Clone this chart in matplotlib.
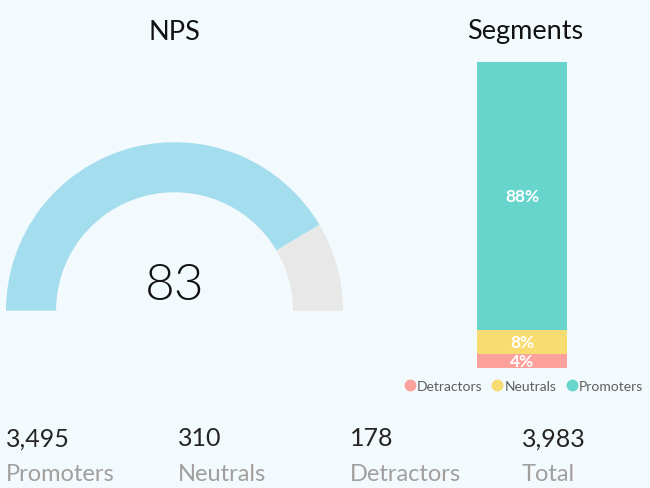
import matplotlib
matplotlib.use("Agg")
import matplotlib.pyplot as plt
from matplotlib.lines import Line2D

# ---- data ----
nps_value = 83
gauge_max = 100
segment_names = ["Detractors", "Neutrals", "Promoters"]
segment_counts = [178, 310, 3495]
card_values = ["3,495", "310", "178", "3,983"]
card_labels = ["Promoters", "Neutrals", "Detractors", "Total"]

# ---- style ----
BG = "#f2fafd"
BLUE = "#a3ddee"
GRAY = "#e8e8e8"
SEG_COLORS = ["#fca19c", "#f8dc72", "#67d5cc"]
W, H = 650, 489

fig = plt.figure(figsize=(W / 100, H / 100), dpi=100, facecolor=BG)
plt.rcParams['font.family'] = ['Lato', 'DejaVu Sans']

def fpos(x0, y0, x1, y1):
    # pixel box (top-left origin) -> figure fraction rect
    return [x0 / W, 1 - y1 / H, (x1 - x0) / W, (y1 - y0) / H]

# ---- gauge ----
axg = fig.add_axes(fpos(6, 143.2, 343, 311.7))
axg.set_facecolor("none")
axg.pie([nps_value, gauge_max - nps_value, gauge_max],
        colors=[BLUE, GRAY, "none"], startangle=180, counterclock=False,
        radius=1, wedgeprops=dict(width=0.297, linewidth=0))
axg.set_xlim(-1, 1)
axg.set_ylim(0, 1)
axg.set_aspect("auto")
axg.axis("off")
axg.text(0, 0.07, f"{nps_value}", ha="center", va="baseline",
         fontsize=37, family=["Lato", "DejaVu Sans"], fontweight=300, color="#111111")

fig.text(174.5 / W, 1 - 39.5 / H, "NPS", ha="center", va="baseline", fontsize=19.5, color="#111111")
fig.text(525 / W, 1 - 39.5 / H, "Segments", ha="center", va="baseline", fontsize=19.5, color="#111111")

# ---- stacked bar ----
axb = fig.add_axes(fpos(477, 62.7, 567, 368.7))
axb.set_facecolor("none")
total = sum(segment_counts)
pcts = [c / total * 100 for c in segment_counts]
bottom = 0
for name, p, col in zip(segment_names, pcts, SEG_COLORS):
    axb.bar(0, p, bottom=bottom, width=1, color=col, linewidth=0)
    axb.text(0, bottom + p / 2, f"{p:.0f}%", ha="center", va="center", color="white",
             fontsize=12.5, fontweight="bold", family=["Lato", "DejaVu Sans"])
    bottom += p
axb.set_xlim(-0.5, 0.5)
axb.set_ylim(0, 100)
axb.axis("off")

handles = [Line2D([], [], marker="o", linestyle="none", markersize=8.5,
                  markerfacecolor=c, markeredgewidth=0) for c in SEG_COLORS]
fig.legend(handles, segment_names, loc="center", bbox_to_anchor=(523 / W, 1 - 387 / H),
           ncol=3, frameon=False, fontsize=10, labelcolor="#605e5c",
           handletextpad=0.05, columnspacing=0.55, handlelength=1.0, borderpad=0)

# ---- cards ----
xs = [6, 178, 350, 522]
for x, v, lab in zip(xs, card_values, card_labels):
    fig.text(x / W, 1 - 446.5 / H, v, ha="left", va="baseline", fontsize=18, color="#252423")
    fig.text(x / W, 1 - 481 / H, lab, ha="left", va="baseline", fontsize=17, color="#a19f9d")

fig.savefig("out.png", dpi=100, facecolor=BG)
